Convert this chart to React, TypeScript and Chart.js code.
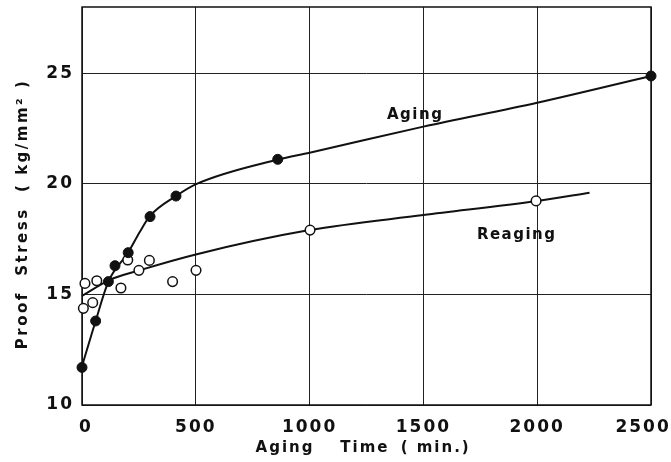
import React, { useEffect, useRef } from 'react';
import { Chart, registerables } from 'chart.js';

Chart.register(...registerables);

// Measured points (filled circles) — Aging
const agingTime = [0, 60, 116, 145, 203, 299, 413, 860, 2500];
const agingStress = [11.7, 13.8, 15.58, 16.3, 16.89, 18.52, 19.45, 21.11, 24.88];

// Measured points (open circles) — Reaging
const reagingTime = [6, 13, 47, 65, 171, 201, 250, 296, 398, 501, 1002, 1995];
const reagingStress = [14.37, 15.5, 14.63, 15.62, 15.29, 16.56, 16.09, 16.54, 15.58, 16.09, 17.91, 19.23];

// Hand-drawn fitted curves
const agingCurveTime = [0, 60, 116, 203, 255, 299, 413, 504, 860, 1000, 1500, 2000, 2500];
const agingCurveStress = [11.75, 13.8, 15.58, 16.9, 17.85, 18.55, 19.45, 20.0, 21.1, 21.41, 22.59, 23.67, 24.88];
const reagingCurveTime = [0, 120, 255, 500, 1000, 1500, 2000, 2230];
const reagingCurveStress = [14.93, 15.65, 16.1, 16.81, 17.91, 18.59, 19.23, 19.6];

const xTicks = [0, 500, 1000, 1500, 2000, 2500];
const yTicks = [10, 15, 20, 25];

const curveLabels = ['Aging', 'Reaging'];
const labelTime = [1340, 1735];
const labelStress = [22.93, 17.51];

const xTitleWords = ['Aging', 'Time', '( min.)'];
const yTitle = 'Proof  Stress  ( kg/mm² )';

const FONT = "'DejaVu Sans', sans-serif";
const INK = '#111';

const decor = {
  id: 'decor',
  beforeDraw(chart: any) {
    chart.ctx.letterSpacing = '2px';
  },
  beforeDatasetsDraw(chart: any) {
    const { ctx, chartArea: a } = chart;
    ctx.save();
    ctx.strokeStyle = INK;
    ctx.lineWidth = 1.5;
    ctx.strokeRect(a.left, a.top, a.right - a.left, a.bottom - a.top);
    ctx.restore();
  },
  afterDraw(chart: any) {
    const { ctx, scales, chartArea: a } = chart;
    const xs = scales.x;
    const ys = scales.y;
    ctx.save();
    ctx.fillStyle = INK;
    ctx.textAlign = 'left';
    ctx.textBaseline = 'alphabetic';
    ctx.font = `bold 15px ${FONT}`;
    ctx.letterSpacing = '1.5px';
    curveLabels.forEach((t, i) => {
      ctx.fillText(t, xs.getPixelForValue(labelTime[i]), ys.getPixelForValue(labelStress[i]));
    });
    // x-axis title
    ctx.font = `bold 15px ${FONT}`;
    ctx.letterSpacing = '2px';
    const w = a.right - a.left;
    const starts = [0.305, 0.454, 0.56];
    xTitleWords.forEach((t, i) => {
      ctx.fillText(t, a.left + starts[i] * w, 452);
    });
    // y-axis title
    ctx.save();
    ctx.translate(27, 214);
    ctx.rotate(-Math.PI / 2);
    ctx.textAlign = 'center';
    ctx.font = `bold 15px ${FONT}`;
    ctx.letterSpacing = '2.5px';
    ctx.fillText(yTitle, 0, 0);
    ctx.restore();
    ctx.restore();
  },
};

export default function App() {
  const ref = useRef<HTMLCanvasElement | null>(null);
  useEffect(() => {
    if (!ref.current) return;
    const chart = new Chart(ref.current, {
      type: 'scatter',
      data: {
        datasets: [
          {
            label: 'Aging',
            data: agingTime.map((x, i) => ({ x, y: agingStress[i] })),
            pointRadius: 5,
            pointBackgroundColor: INK,
            pointBorderColor: INK,
            pointBorderWidth: 1,
            showLine: false,
            clip: false,
            order: 0,
          } as any,
          {
            label: 'Reaging',
            data: reagingTime.map((x, i) => ({ x, y: reagingStress[i] })),
            pointRadius: 4.8,
            pointBackgroundColor: '#fff',
            pointBorderColor: INK,
            pointBorderWidth: 1.5,
            showLine: false,
            clip: false,
            order: 1,
          } as any,
          {
            label: 'Aging curve',
            data: agingCurveTime.map((x, i) => ({ x, y: agingCurveStress[i] })),
            showLine: true,
            pointRadius: 0,
            borderColor: INK,
            borderWidth: 2,
            cubicInterpolationMode: 'monotone',
            clip: false,
            order: 2,
          } as any,
          {
            label: 'Reaging curve',
            data: reagingCurveTime.map((x, i) => ({ x, y: reagingCurveStress[i] })),
            showLine: true,
            pointRadius: 0,
            borderColor: INK,
            borderWidth: 2,
            cubicInterpolationMode: 'monotone',
            clip: false,
            order: 3,
          } as any,
        ],
      },
      options: {
        animation: false,
        responsive: false,
        devicePixelRatio: 1,
        events: [],
        layout: { padding: { top: 7, right: 20, left: 0, bottom: 0 } },
        plugins: { legend: { display: false }, tooltip: { enabled: false } },
        scales: {
          x: {
            type: 'linear',
            min: 0,
            max: 2500,
            afterBuildTicks: (s: any) => {
              s.ticks = xTicks.map((v) => ({ value: v }));
            },
            afterFit: (s: any) => {
              s.height = 57;
              s.paddingLeft = 0;
              s.paddingRight = 0;
            },
            ticks: {
              padding: 12,
              color: INK,
              font: { family: FONT, size: 17, weight: 'bold' },
              maxRotation: 0,
              autoSkip: false,
              callback: (v: any, i: number) =>
                i === 0 ? ' ' + String(v) : i === xTicks.length - 1 ? String(v) + '  ' : String(v),
            },
            grid: { color: '#222', lineWidth: 1, drawTicks: false },
            border: { display: false },
          },
          y: {
            type: 'linear',
            min: 10,
            max: 28,
            afterBuildTicks: (s: any) => {
              s.ticks = yTicks.map((v) => ({ value: v }));
            },
            afterFit: (s: any) => {
              s.width = 82;
              s.paddingTop = 0;
              s.paddingBottom = 0;
            },
            ticks: {
              padding: 8,
              color: INK,
              font: { family: FONT, size: 17, weight: 'bold' },
              autoSkip: false,
              callback: (v: any) => String(v),
            },
            grid: { color: '#222', lineWidth: 1, drawTicks: false },
            border: { display: false },
          },
        },
      } as any,
      plugins: [decor],
    });
    return () => chart.destroy();
  }, []);
  return (
    <div style={{ position: 'absolute', left: 0, top: 0, width: 671, height: 462, background: '#fff' }}>
      <canvas ref={ref} width={671} height={462} style={{ display: 'block' }} />
    </div>
  );
}
